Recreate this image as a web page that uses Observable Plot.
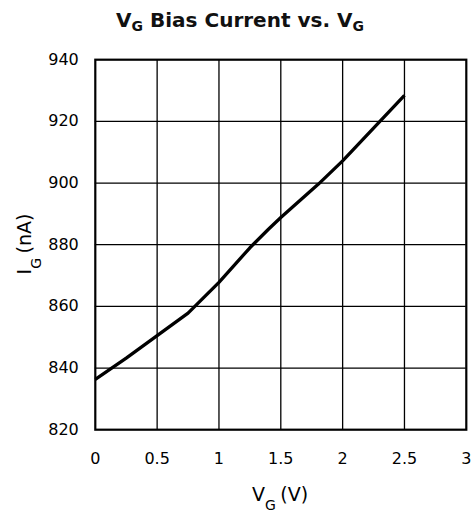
<!DOCTYPE html>
<html>
<head>
<meta charset="utf-8">
<script src="https://cdn.jsdelivr.net/npm/d3@7"></script>
<script src="https://cdn.jsdelivr.net/npm/@observablehq/plot@0.6"></script>
<style>
  html, body { margin: 0; padding: 0; background: #fff; }
  #chart svg { display: block; }
</style>
</head>
<body>
<div id="chart"></div>
<script>
// Data
const vg = [0, 0.25, 0.5, 0.75, 1.0, 1.25, 1.4, 1.5, 1.8, 2.0, 2.25, 2.5];
const ig = [836.3, 843.2, 850.5, 857.8, 867.8, 879, 885, 888.8, 899.5, 907.2, 917.8, 928.4];
const xTicks = [0, 0.5, 1, 1.5, 2, 2.5, 3];
const xTickLabels = ["0", "0.5", "1", "1.5", "2", "2.5", "3"];
const yTicks = [820, 840, 860, 880, 900, 920, 940];

const data = vg.map((v, i) => ({v, i: ig[i]}));

const font = "DejaVu Sans";

const plot = Plot.plot({
  width: 474,
  height: 515,
  marginLeft: 94.8,
  marginRight: 8.2,
  marginTop: 59.2,
  marginBottom: 85.8,
  style: {fontFamily: font, fontSize: "16px", color: "#000", background: "#fff"},
  x: {domain: [0, 3], ticks: xTicks, tickFormat: (d, k) => xTickLabels[k], label: null},
  y: {domain: [820, 940], ticks: yTicks, label: null},
  marks: [
    Plot.ruleX(xTicks.slice(1, -1), {stroke: "#000", strokeWidth: 1.3}),
    Plot.ruleY(yTicks.slice(1, -1), {stroke: "#000", strokeWidth: 1.3}),
    Plot.frame({stroke: "#000", strokeWidth: 2.2}),
    Plot.axisX(xTicks, {tickSize: 0, tickPadding: 23, tickFormat: (d, k) => xTickLabels[k], label: null, fontSize: 16}),
    Plot.axisY(yTicks, {tickSize: 0, tickPadding: 16.5, label: null, fontSize: 16}),
    Plot.line(data, {x: "v", y: "i", stroke: "#000", strokeWidth: 3.3, strokeLinejoin: "round", strokeLinecap: "butt"})
  ]
});

const svg = d3.select(plot);

// Title
const t = svg.append("text")
  .attr("x", 240).attr("y", 26.7)
  .attr("text-anchor", "middle")
  .attr("font-family", font).attr("font-weight", "bold").attr("font-size", 20)
  .attr("fill", "#111");
t.append("tspan").text("V");
t.append("tspan").attr("dy", 4).attr("font-size", 14).text("G");
t.append("tspan").attr("dy", -4).text(" Bias Current vs. V");
t.append("tspan").attr("dy", 4).attr("font-size", 14).text("G");

// X label
const xl = svg.append("text")
  .attr("x", 280).attr("y", 501)
  .attr("text-anchor", "middle")
  .attr("font-family", font).attr("font-size", 19).attr("fill", "#000");
xl.append("tspan").text("V");
xl.append("tspan").attr("dy", 9).attr("font-size", 14).text("G ");
xl.append("tspan").attr("dy", -9).text("(V)");

// Y label
const yl = svg.append("text")
  .attr("transform", "translate(30.7,244) rotate(-90)")
  .attr("text-anchor", "middle")
  .attr("font-family", font).attr("font-size", 19).attr("fill", "#000");
yl.append("tspan").text("I");
yl.append("tspan").attr("dy", 10).attr("font-size", 14).text("G ");
yl.append("tspan").attr("dy", -10).text("(nA)");

document.getElementById("chart").appendChild(plot);
</script>
</body>
</html>
